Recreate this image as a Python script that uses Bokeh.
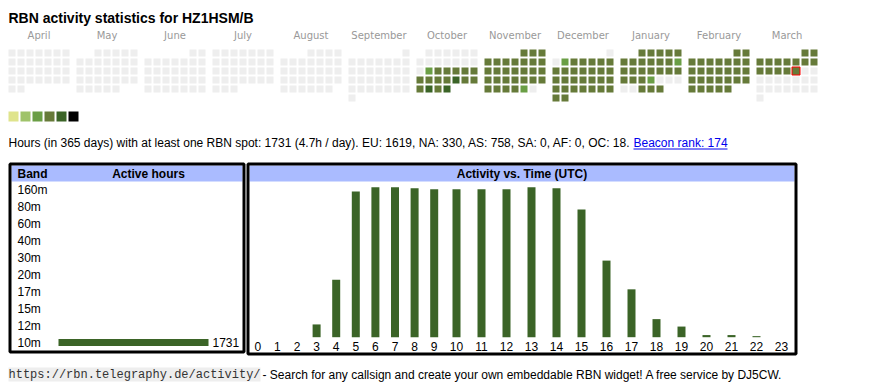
from datetime import date
from bokeh.plotting import figure
from bokeh.models import Range1d
from bokeh.embed import file_html
from bokeh.resources import INLINE
from bokeh.core.properties import value

# ---------------- data ----------------
callsign = "HZ1HSM/B"
month_names = ["April", "May", "June", "July", "August", "September",
               "October", "November", "December", "January", "February", "March"]
month_years = [2024, 2024, 2024, 2024, 2024, 2024, 2024, 2024, 2024, 2025, 2025, 2025]
month_nums = [4, 5, 6, 7, 8, 9, 10, 11, 12, 1, 2, 3]
# activity level per day (0 = none, 1..6 = legend colours)
day_levels = [
    "0" * 30,
    "0" * 31,
    "0" * 30,
    "0" * 31,
    "0" * 31,
    "0" * 30,
    "0" * 14 + "3" + "44444" + "4444" + "5" + "444" + "5" + "4" + "5",
    "4" * 28 + "3" + "0",
    "00" + "3" + "4" * 28,
    "4" * 11 + "3" + "4" * 10 + "3" + "0" * 5 + "444",
    "4" * 28,
    "4" * 14 + "0" * 17,
]
today_month = 11
today_day = 14
legend_colors = ["#dfe48c", "#9fc36a", "#6a9e45", "#667a39", "#3b6427", "#000000"]
empty_color = "#eeeeee"

bands = ["160m", "80m", "60m", "40m", "30m", "20m", "17m", "15m", "12m", "10m"]
band_hours = [0, 0, 0, 0, 0, 0, 0, 0, 0, 1731]

hours = list(range(24))
hour_counts = [0, 0, 0, 12, 54, 137, 141, 141, 140, 139, 139, 139, 139, 141,
               140, 120, 72, 45, 17, 10, 2, 2, 1, 0]

total_hours = 1731
n_days = 365
continents = ["EU", "NA", "AS", "SA", "AF", "OC"]
continent_hours = [1619, 330, 758, 0, 0, 18]
beacon_rank = 174

bar_color = "#3b6427"
header_color = "#aabbff"
FONT = value("Liberation Sans")

# ---------------- figure (page pixel coordinates) ----------------
W, H = 860, 388
p = figure(width=W, height=H, x_range=Range1d(0, W), y_range=Range1d(H, 0),
           output_backend="svg", toolbar_location=None, min_border=0,
           x_axis_location=None, y_axis_location=None)
p.grid.visible = False
p.outline_line_color = None
p.background_fill_color = "white"

def txt(x, y, t, size="12px", style="normal", color="#000000", align="left", font=FONT, **kw):
    return p.text(x=x, y=y, text=t, text_font=font, text_font_size=size,
                  text_font_style=style, text_color=color, text_align=align,
                  text_baseline="middle", **kw)

# title
txt([8], [17], ["RBN activity statistics for " + callsign], size="14px", style="bold")

# ---------------- calendar heatmap ----------------
BLOCK, PITCH, CELL, TOP = 68, 9, 7, 49
cx, cy, cc = [], [], []
for m, (yr, mn, lv) in enumerate(zip(month_years, month_nums, day_levels)):
    first_wd = date(yr, mn, 1).weekday()
    for d, ch in enumerate(lv):
        k = first_wd + d
        col, row = k % 7, k // 7
        cx.append(8 + m * BLOCK + col * PITCH + CELL / 2)
        cy.append(TOP + row * PITCH + CELL / 2)
        lvl = int(ch)
        cc.append(empty_color if lvl == 0 else legend_colors[lvl - 1])
        if m == today_month and d + 1 == today_day:
            tx, ty, tc = cx[-1], cy[-1], cc[-1]
p.rect(x=cx, y=cy, width=CELL, height=CELL, fill_color=cc, line_color=None)
p.rect(x=[tx], y=[ty], width=CELL + 1, height=CELL + 1, fill_color=tc,
       line_color="#ff0000", line_width=1)

mx = [8 + m * BLOCK + (7 * PITCH - 2) / 2 for m in range(len(month_names))]
txt(mx, [35] * len(mx), month_names, size="10px", color="#999999", align="center",
    font=value("DejaVu Sans"))

# legend squares
lx = [8 + i * 12 + 5 for i in range(len(legend_colors))]
p.rect(x=lx, y=[116] * len(lx), width=10, height=10, fill_color=legend_colors, line_color=None)

# summary line
summary = ("Hours (in %d days) with at least one RBN spot: %d (%.1fh / day). " % (n_days, total_hours, total_hours / n_days)
           + ", ".join("%s: %d" % (c, v) for c, v in zip(continents, continent_hours)) + ".")
txt([8], [142], [summary], size="12px")
link = "Beacon rank: %d" % beacon_rank
txt([633], [142], [link], size="12px", color="#0000ee")
p.segment(x0=[633], y0=[148.5], x1=[727], y1=[148.5], line_color="#0000ee", line_width=1)

# ---------------- boxes ----------------
p.quad(left=[11, 249], right=[242, 794], top=[165, 165], bottom=[181, 181],
       fill_color=header_color, line_color=None)
p.quad(left=[9.5, 247.5], right=[243.5, 795.5], top=[163.5, 163.5], bottom=[351.5, 353.5],
       fill_color=None, line_color="black", line_width=3)
txt([17], [173], ["Band"], style="bold")
txt([148], [173], ["Active hours"], style="bold", align="center")
txt([521.5], [173], ["Activity vs. Time (UTC)"], style="bold", align="center")

# band chart
s_b = 150 / max(band_hours)
p.extra_x_ranges = {"band": Range1d(start=(0 - 58) / s_b, end=(W - 58) / s_b)}
row_y = [189 + 17 * i for i in range(len(bands))]
txt([17] * len(bands), row_y, bands)
p.hbar(y=row_y, height=7, left=0, right=band_hours, x_range_name="band",
       fill_color=bar_color, line_color=None)
nz = [i for i, v in enumerate(band_hours) if v > 0]
txt([band_hours[i] for i in nz], [row_y[i] for i in nz], [str(band_hours[i]) for i in nz],
    x_range_name="band", x_offset=4)

# hour chart
s_h = 150 / max(hour_counts)
base_y = 336.7
p.extra_y_ranges = {"hours": Range1d(start=(base_y - H) / s_h, end=(base_y - 0) / s_h)}
widths = [14.2 + 5.4 * len(str(h)) for h in hours]
centers = [257.3]
for i in range(1, len(hours)):
    centers.append(centers[-1] + (widths[i - 1] + widths[i]) / 2)
p.vbar(x=centers, width=8, bottom=0, top=hour_counts, y_range_name="hours",
       fill_color=bar_color, line_color=None)
txt(centers, [346] * len(hours), [str(h) for h in hours], align="center")

# footer
url = "https://rbn.telegraphy.de/activity/"
p.quad(left=[8], right=[260], top=[367], bottom=[381], fill_color="#eeeeee", line_color=None)
txt([8], [374], [url], size="12px", color="#333333", font=value("Liberation Mono"))
txt([262], [374], [" - Search for any callsign and create your own embeddable RBN widget! A free service by DJ5CW."],
    size="12px")

open("out.html", "w").write(file_html(p, INLINE))
